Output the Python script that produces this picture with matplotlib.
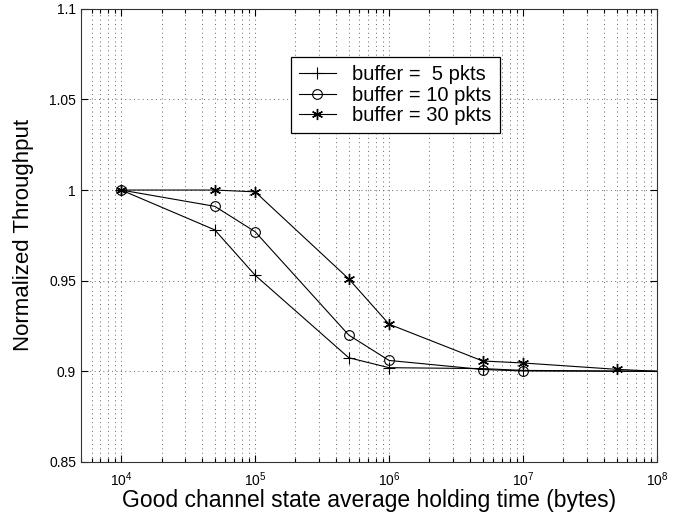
import matplotlib
matplotlib.use("Agg")
import matplotlib.pyplot as plt
from matplotlib.ticker import LogLocator, NullFormatter

plt.rcParams['font.family'] = ['Liberation Sans', 'DejaVu Sans']
plt.rcParams['mathtext.fontset'] = 'custom'
plt.rcParams['mathtext.rm'] = 'Liberation Sans'
plt.rcParams['mathtext.it'] = 'Liberation Sans'

# Good channel state average holding time (bytes)
time_buf5 = [1e4, 5e4, 1e5, 5e5, 1e6, 5e6, 1e7, 1e8]
thr_buf5 = [1.000, 0.978, 0.953, 0.9075, 0.902, 0.9015, 0.9005, 0.900]

time_buf10 = [1e4, 5e4, 1e5, 5e5, 1e6, 5e6, 1e7, 1e8]
thr_buf10 = [1.000, 0.991, 0.977, 0.920, 0.906, 0.901, 0.9002, 0.900]

time_buf30 = [1e4, 5e4, 1e5, 5e5, 1e6, 5e6, 1e7, 5e7, 1e8]
thr_buf30 = [1.000, 1.000, 0.999, 0.951, 0.926, 0.9057, 0.9046, 0.9011, 0.900]

labels = ['buffer =  5 pkts', 'buffer = 10 pkts', 'buffer = 30 pkts']
y_ticks = [0.85, 0.9, 0.95, 1.0, 1.05, 1.1]
y_ticklabels = ['0.85', '0.9', '0.95', '1', '1.05', '1.1']
x_ticks = [1e4, 1e5, 1e6, 1e7, 1e8]
x_ticklabels = [r'$10^{4}$', r'$10^{5}$', r'$10^{6}$', r'$10^{7}$', r'$10^{8}$']

fig = plt.figure(figsize=(6.8, 5.15), dpi=100)
ax = fig.add_axes([0.119, 0.103, 0.847, 0.880])

ax.set_xscale('log')
ax.set_xlim(5e3, 1e8)
ax.set_ylim(0.85, 1.1)

# the final point sits on the right edge; it carries the line only
ax.plot(time_buf5, thr_buf5, color='black', lw=0.8, marker='+', ms=9,
        mew=0.8, markevery=list(range(len(time_buf5) - 1)), label=labels[0])
ax.plot(time_buf10, thr_buf10, color='black', lw=0.8, marker='o', ms=7,
        mfc='none', mew=0.8, markevery=list(range(len(time_buf10) - 1)),
        label=labels[1])
ax.plot(time_buf30, thr_buf30, color='black', lw=0.8, marker=(6, 2, 0), ms=8,
        mew=1.0, markevery=list(range(len(time_buf30) - 1)), label=labels[2])

ax.set_xticks(x_ticks)
ax.set_xticklabels(x_ticklabels)
ax.xaxis.set_minor_locator(LogLocator(base=10, subs=range(2, 10), numticks=20))
ax.xaxis.set_minor_formatter(NullFormatter())
ax.set_yticks(y_ticks)
ax.set_yticklabels(y_ticklabels)

ax.tick_params(which='both', direction='in', top=True, right=True,
               labelsize=10, width=0.8, color='black')
ax.tick_params(which='major', length=5)
ax.tick_params(which='minor', length=3)
ax.tick_params(axis='x', pad=6)

grid_style = dict(color='#666666', linestyle=(0, (1, 3.5)), linewidth=0.7)
ax.grid(True, which='major', axis='both', **grid_style)
ax.grid(True, which='minor', axis='x', **grid_style)

for s in ax.spines.values():
    s.set_linewidth(0.8)
    s.set_color('#333333')

ax.set_xlabel('Good channel state average holding time (bytes)', fontsize=16.5,
              labelpad=0)
ax.set_ylabel('Normalized Throughput', fontsize=16, labelpad=11)

leg = ax.legend(loc='upper left', bbox_to_anchor=(0.3645, 0.8937), fontsize=14.5,
                frameon=True, fancybox=False, edgecolor='black', framealpha=1,
                handlelength=1.8, borderpad=0.42, labelspacing=0.06,
                handletextpad=0.8, borderaxespad=0)
leg.get_frame().set_linewidth(0.9)

fig.savefig('out.png', dpi=100)
